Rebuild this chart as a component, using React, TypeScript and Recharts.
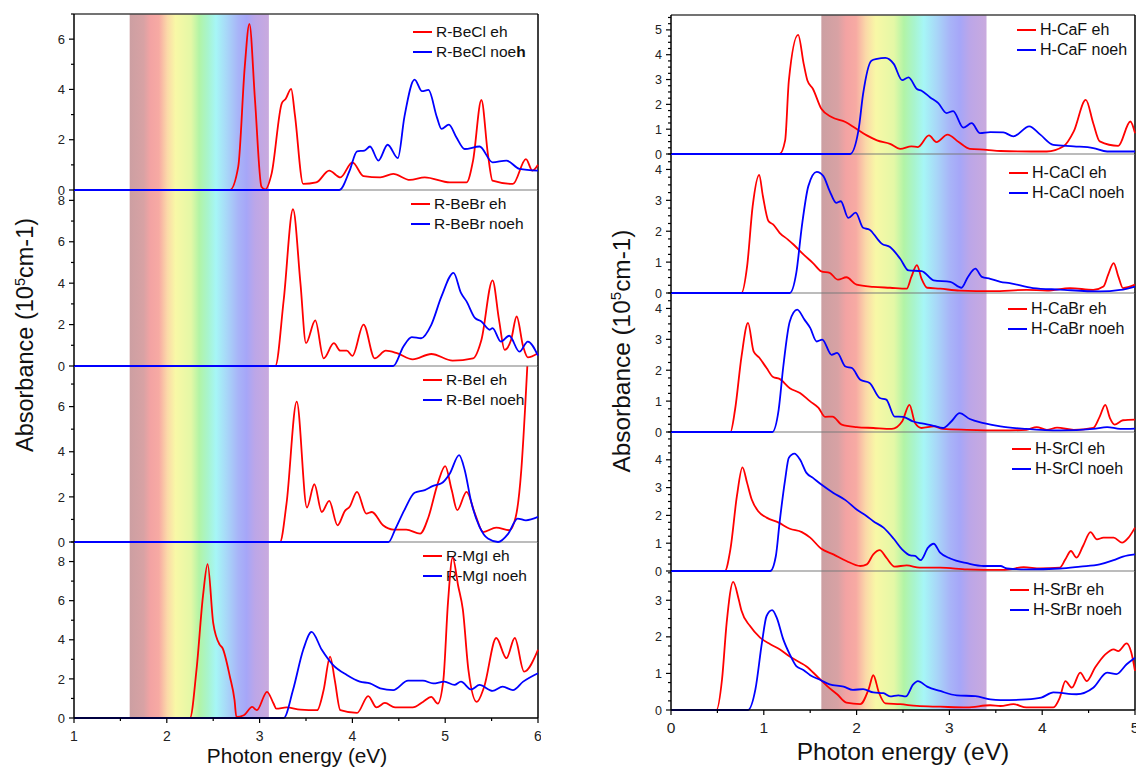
import React from "react";
import { LineChart, Line, XAxis, YAxis, ReferenceArea, ReferenceLine } from "recharts";

type Pt = [number, number];

// ---- left column: R- compounds, photon energy 1..6 eV
const beclEh: Pt[] = [[1,0],[2.68,0],[2.77,0.93],[2.84,4.9],[2.89,6.61],[2.95,3.6],[3.02,0.13],[3.06,0.02],[3.13,0.66],[3.24,3.46],[3.28,3.62],[3.34,4.02],[3.38,3.0],[3.47,0.24],[3.61,0.3],[3.75,0.77],[3.87,0.5],[4.0,1.1],[4.12,0.55],[4.3,0.5],[4.44,0.64],[4.62,0.4],[4.78,0.5],[5.05,0.3],[5.23,0.3],[5.3,1.17],[5.39,3.58],[5.46,1.43],[5.51,0.37],[5.73,0.24],[5.87,1.23],[5.94,0.77],[6.0,1.0]];
const beclNoeh: Pt[] = [[1,0],[3.86,0],[3.97,0.77],[4.05,1.54],[4.13,1.57],[4.19,1.73],[4.28,1.17],[4.38,1.8],[4.49,1.27],[4.56,2.9],[4.67,4.39],[4.75,3.93],[4.82,3.98],[4.91,2.9],[4.96,2.43],[5.04,2.6],[5.12,2.1],[5.21,1.63],[5.37,1.73],[5.51,1.1],[5.66,1.17],[5.8,0.84],[6.0,0.77]];
const bebrEh: Pt[] = [[1,0],[3.17,0],[3.26,3.2],[3.36,7.57],[3.44,4.0],[3.5,1.1],[3.6,2.2],[3.69,0.37],[3.8,1.1],[3.87,0.74],[3.94,0.74],[4.0,0.49],[4.12,2.0],[4.24,0.37],[4.36,0.74],[4.48,0.62],[4.65,0.32],[4.85,0.58],[5.08,0.26],[5.3,0.37],[5.39,1.26],[5.51,4.14],[5.58,2.23],[5.64,0.78],[5.71,1.26],[5.77,2.39],[5.84,0.94],[5.89,0.42],[6.0,0.62]];
const bebrNoeh: Pt[] = [[1,0],[4.44,0],[4.55,0.94],[4.64,1.39],[4.74,1.34],[4.85,1.99],[4.96,3.36],[5.09,4.5],[5.17,3.53],[5.23,3.12],[5.32,2.32],[5.39,2.15],[5.48,1.75],[5.51,1.83],[5.6,1.18],[5.69,1.46],[5.8,0.69],[5.89,1.18],[6.0,0.5]];
const beiEh: Pt[] = [[1,0],[3.22,0],[3.29,1.7],[3.4,6.22],[3.51,1.53],[3.59,2.56],[3.67,1.33],[3.75,1.82],[3.84,0.74],[3.92,1.38],[3.97,1.56],[4.05,2.22],[4.15,1.26],[4.21,1.33],[4.33,0.74],[4.44,0.55],[4.58,0.55],[4.73,0.37],[4.82,1.11],[4.92,2.6],[5.0,3.36],[5.07,2.3],[5.13,1.41],[5.23,2.22],[5.32,1.26],[5.41,0.44],[5.55,0.64],[5.69,0.52],[5.76,1.11],[5.82,3.19],[5.86,5.85],[5.885,7.8]];
const beiNoeh: Pt[] = [[1,0],[4.39,0],[4.46,0.55],[4.56,1.41],[4.67,2.18],[4.78,2.3],[4.87,2.49],[4.96,2.6],[5.05,3.04],[5.15,3.85],[5.21,3.19],[5.28,1.78],[5.37,0.67],[5.46,0.15],[5.57,0],[5.68,0.37],[5.78,1.04],[5.87,0.96],[6.0,1.11]];
const mgiEh: Pt[] = [[1,0],[2.25,0],[2.32,2.46],[2.39,6.24],[2.44,7.87],[2.5,4.87],[2.57,3.75],[2.6,3.58],[2.68,2.11],[2.73,0.91],[2.75,0.05],[2.83,0.14],[2.92,0.57],[2.97,0.4],[3.08,1.34],[3.15,0.74],[3.18,0.48],[3.29,0.54],[3.44,0.43],[3.62,0.4],[3.69,1.43],[3.76,3.14],[3.81,1.94],[3.87,0.4],[4.05,0.26],[4.17,1.12],[4.26,0.54],[4.35,0.77],[4.46,0.54],[4.65,0.54],[4.76,0.82],[4.85,1.08],[4.92,0.74],[4.98,1.94],[5.03,5.9],[5.08,8.2],[5.14,6.75],[5.19,5.55],[5.25,2.46],[5.34,0.82],[5.42,1.6],[5.55,4.09],[5.66,3.06],[5.75,4.09],[5.85,2.37],[6.0,3.49]];
const mgiNoeh: Pt[] = [[1,0],[3.26,0],[3.36,1.43],[3.47,3.49],[3.56,4.4],[3.67,3.49],[3.79,2.72],[3.94,2.2],[4.08,1.86],[4.19,1.77],[4.3,1.52],[4.44,1.43],[4.6,1.91],[4.76,1.91],[4.87,1.77],[4.99,1.86],[5.1,1.69],[5.17,1.86],[5.28,1.46],[5.37,1.69],[5.51,1.39],[5.62,1.6],[5.73,1.43],[5.84,1.86],[6.0,2.29]];

// ---- right column: H- compounds, photon energy 0..5 eV
const cafEh: Pt[] = [[0,0],[1.17,0],[1.23,0.55],[1.27,2.96],[1.37,4.8],[1.43,3.63],[1.47,2.96],[1.53,2.62],[1.62,1.82],[1.73,1.49],[1.88,1.29],[1.98,1.06],[2.11,0.75],[2.22,0.55],[2.36,0.41],[2.47,0.21],[2.59,0.31],[2.66,0.28],[2.78,0.75],[2.86,0.48],[2.98,0.78],[3.1,0.48],[3.22,0.21],[3.4,0.17],[3.55,0.12],[4.05,0.1],[4.23,0.31],[4.34,0.91],[4.47,2.18],[4.55,1.24],[4.62,0.51],[4.82,0.33],[4.95,1.31],[5.0,0.84]];
const cafNoeh: Pt[] = [[0,0],[1.93,0],[2.02,0.95],[2.07,2.42],[2.16,3.76],[2.22,3.83],[2.31,3.87],[2.4,3.63],[2.49,2.98],[2.56,3.09],[2.65,2.62],[2.7,2.55],[2.79,2.29],[2.88,2.05],[2.97,1.65],[3.04,1.73],[3.15,1.06],[3.24,1.24],[3.33,0.84],[3.44,0.88],[3.58,0.87],[3.69,0.71],[3.86,1.11],[3.98,0.78],[4.12,0.37],[4.34,0.31],[4.55,0.24],[4.7,0.1],[5.0,0.1]];
const caclEh: Pt[] = [[0,0],[0.76,0],[0.82,0.86],[0.88,2.81],[0.95,3.82],[0.99,3.14],[1.05,2.33],[1.1,2.22],[1.17,1.95],[1.26,1.73],[1.32,1.57],[1.43,1.24],[1.53,0.97],[1.62,0.7],[1.71,0.65],[1.8,0.43],[1.89,0.51],[2.0,0.27],[2.18,0.2],[2.36,0.17],[2.54,0.14],[2.59,0.52],[2.65,0.9],[2.7,0.46],[2.76,0.17],[2.9,0.14],[3.11,0.08],[3.47,0.06],[3.83,0.1],[4.05,0.08],[4.3,0.16],[4.55,0.1],[4.66,0.21],[4.71,0.59],[4.77,0.97],[4.82,0.54],[4.87,0.16],[5.0,0.27]];
const caclNoeh: Pt[] = [[0,0],[1.28,0],[1.35,0.65],[1.41,2.16],[1.48,3.46],[1.57,3.92],[1.64,3.79],[1.71,3.3],[1.78,2.92],[1.83,2.97],[1.91,2.43],[1.99,2.6],[2.07,2.11],[2.14,2.05],[2.23,1.73],[2.27,1.6],[2.36,1.49],[2.47,1.11],[2.56,0.73],[2.7,0.71],[2.83,0.41],[3.01,0.36],[3.13,0.17],[3.2,0.52],[3.28,0.79],[3.35,0.52],[3.44,0.46],[3.55,0.36],[3.65,0.32],[3.9,0.16],[4.19,0.11],[4.62,0.05],[4.84,0.1],[5.0,0.21]];
const cabrEh: Pt[] = [[0,0],[0.64,0],[0.69,0.72],[0.76,2.45],[0.83,3.53],[0.89,2.61],[0.95,2.41],[1.03,2.07],[1.1,1.78],[1.17,1.72],[1.28,1.42],[1.39,1.26],[1.5,0.99],[1.59,0.78],[1.66,0.49],[1.74,0.5],[1.84,0.24],[2.0,0.16],[2.18,0.13],[2.38,0.1],[2.49,0.34],[2.57,0.88],[2.63,0.29],[2.7,0.13],[2.83,0.18],[2.93,0.1],[3.19,0.07],[3.55,0.05],[3.83,0.07],[3.94,0.16],[4.05,0.07],[4.16,0.14],[4.34,0.07],[4.55,0.13],[4.62,0.5],[4.68,0.88],[4.73,0.45],[4.78,0.24],[4.87,0.38],[5.0,0.4]];
const cabrNoeh: Pt[] = [[0,0],[1.09,0],[1.16,0.72],[1.21,2.12],[1.28,3.58],[1.36,3.96],[1.44,3.63],[1.5,3.37],[1.57,2.93],[1.63,2.99],[1.73,2.5],[1.79,2.56],[1.88,2.12],[1.95,2.07],[2.04,1.69],[2.14,1.59],[2.25,1.1],[2.32,1.05],[2.41,0.5],[2.5,0.49],[2.61,0.34],[2.72,0.27],[2.83,0.2],[2.93,0.13],[3.02,0.34],[3.11,0.61],[3.22,0.42],[3.37,0.29],[3.55,0.18],[3.83,0.1],[4.19,0.05],[4.55,0.1],[4.7,0.16],[4.84,0.1],[5.0,0.11]];
const srclEh: Pt[] = [[0,0],[0.58,0],[0.64,0.78],[0.71,2.69],[0.77,3.73],[0.82,3.17],[0.87,2.57],[0.94,2.15],[1.03,1.92],[1.16,1.74],[1.28,1.52],[1.41,1.4],[1.5,1.2],[1.62,0.8],[1.75,0.6],[1.89,0.36],[2.04,0.18],[2.11,0.24],[2.18,0.6],[2.25,0.75],[2.32,0.48],[2.41,0.16],[2.54,0.2],[2.68,0.12],[2.9,0.12],[3.19,0.06],[3.55,0.04],[3.65,0.06],[3.8,0.14],[3.98,0.09],[4.19,0.12],[4.25,0.42],[4.31,0.72],[4.37,0.48],[4.44,0.9],[4.52,1.4],[4.59,1.14],[4.66,1.2],[4.77,1.2],[4.86,1.02],[4.93,1.2],[5.0,1.56]];
const srclNoeh: Pt[] = [[0,0],[1.07,0],[1.13,0.54],[1.17,1.74],[1.23,3.29],[1.27,4.07],[1.33,4.22],[1.39,4.01],[1.46,3.53],[1.53,3.35],[1.62,3.11],[1.75,2.81],[1.88,2.55],[2.0,2.21],[2.11,1.97],[2.18,1.79],[2.29,1.56],[2.4,1.16],[2.49,0.78],[2.58,0.56],[2.63,0.54],[2.69,0.39],[2.77,0.84],[2.83,0.98],[2.9,0.66],[3.01,0.45],[3.19,0.28],[3.37,0.18],[3.55,0.18],[3.62,0.09],[3.83,0.06],[4.19,0.09],[4.41,0.16],[4.62,0.24],[4.77,0.39],[4.87,0.52],[5.0,0.6]];
const srbrEh: Pt[] = [[0,0],[0.49,0],[0.55,0.84],[0.6,2.39],[0.67,3.5],[0.73,3.02],[0.76,2.71],[0.85,2.3],[0.96,1.98],[1.07,1.8],[1.17,1.66],[1.28,1.46],[1.39,1.3],[1.46,1.19],[1.57,0.93],[1.68,0.66],[1.79,0.43],[1.89,0.2],[2.04,0.16],[2.13,0.57],[2.18,0.95],[2.24,0.48],[2.31,0.18],[2.47,0.16],[2.65,0.11],[2.9,0.09],[3.19,0.07],[3.44,0.13],[3.55,0.11],[3.69,0.16],[3.83,0.07],[4.12,0.07],[4.19,0.34],[4.25,0.79],[4.32,0.61],[4.41,1.02],[4.48,0.79],[4.57,1.16],[4.68,1.52],[4.77,1.66],[4.82,1.61],[4.91,1.82],[4.96,1.57],[5.0,1.07]];
const srbrNoeh: Pt[] = [[0,0],[0.83,0],[0.91,0.57],[0.98,1.84],[1.03,2.57],[1.09,2.73],[1.14,2.52],[1.21,1.93],[1.28,1.52],[1.35,1.2],[1.43,1.09],[1.5,0.95],[1.61,0.82],[1.71,0.7],[1.86,0.64],[1.96,0.55],[2.07,0.57],[2.18,0.48],[2.29,0.46],[2.36,0.37],[2.45,0.4],[2.53,0.37],[2.61,0.7],[2.66,0.79],[2.76,0.64],[2.9,0.52],[3.08,0.4],[3.28,0.38],[3.44,0.29],[3.55,0.27],[3.83,0.29],[3.99,0.34],[4.12,0.48],[4.37,0.43],[4.55,0.61],[4.7,1.02],[4.8,0.98],[4.91,1.25],[5.0,1.43]];

// tick labels
const leftXTicks = [1, 2, 3, 4, 5, 6];
const rightXTicks = [0, 1, 2, 3, 4, 5];
const visibleBand: Record<string, [number, number]> = { left: [1.6, 3.1], right: [1.62, 3.4] };

const FONT = '"Liberation Sans", Arial, Helvetica, sans-serif';
const RED = "#ff0000";
const BLUE = "#0000ff";

const rainbowStops: [number, string][] = [
  [0, "#cc9fa2"], [0.1, "#d8a2a4"], [0.15, "#f3a3a3"], [0.21, "#f7aaa3"],
  [0.27, "#fbd9a8"], [0.33, "#f8f8a6"], [0.44, "#e4f8a6"], [0.5, "#b2f4a6"],
  [0.56, "#a8f4cc"], [0.62, "#a6f6f6"], [0.7, "#a8d6f8"], [0.78, "#a8b4f8"],
  [0.84, "#a6a6f8"], [0.9, "#bca6e8"], [1, "#c9aade"],
];

interface PanelDef {
  id: string;
  top: number;
  height: number;
  yMax: number;
  yMajor: number[];
  yMinor: number;
  eh: Pt[];
  noeh: Pt[];
  ehName: React.ReactNode;
  noehName: React.ReactNode;
  legendX: number;
  legendY: number;
}

interface ColumnDef {
  key: string;
  plotLeft: number;
  plotWidth: number;
  xDomain: [number, number];
  xMajor: number[];
  band: [number, number];
  yFont: number;
  xFont: number;
  legendFont: number;
  panels: PanelDef[];
}

const steps = (a: number, b: number, s: number) => {
  const out: number[] = [];
  for (let v = a; v <= b + 1e-9; v += s) out.push(Math.round(v * 1000) / 1000);
  return out;
};

const leftCol: ColumnDef = {
  key: "left",
  plotLeft: 74,
  plotWidth: 464,
  xDomain: [1, 6],
  xMajor: leftXTicks,
  band: visibleBand.left,
  yFont: 13,
  xFont: 14,
  legendFont: 15.5,
  panels: [
    { id: "becl", top: 14, height: 176, yMax: 7, yMajor: [0, 2, 4, 6], yMinor: 1, eh: beclEh, noeh: beclNoeh,
      ehName: "R-BeCl eh", noehName: <>R-BeCl noe<b>h</b></>, legendX: 413, legendY: 32 },
    { id: "bebr", top: 190, height: 176, yMax: 8.5, yMajor: [0, 2, 4, 6, 8], yMinor: 1, eh: bebrEh, noeh: bebrNoeh,
      ehName: "R-BeBr eh", noehName: "R-BeBr noeh", legendX: 411, legendY: 204 },
    { id: "bei", top: 366, height: 176, yMax: 7.8, yMajor: [0, 2, 4, 6], yMinor: 1, eh: beiEh, noeh: beiNoeh,
      ehName: "R-BeI eh", noehName: "R-BeI noeh", legendX: 423, legendY: 380 },
    { id: "mgi", top: 542, height: 176, yMax: 9, yMajor: [0, 2, 4, 6, 8], yMinor: 1, eh: mgiEh, noeh: mgiNoeh,
      ehName: "R-MgI eh", noehName: "R-MgI noeh", legendX: 423, legendY: 556 },
  ],
};

const rightCol: ColumnDef = {
  key: "right",
  plotLeft: 671,
  plotWidth: 464,
  xDomain: [0, 5],
  xMajor: rightXTicks,
  band: visibleBand.right,
  yFont: 12.5,
  xFont: 15.5,
  legendFont: 16,
  panels: [
    { id: "caf", top: 15, height: 139, yMax: 5.6, yMajor: [0, 1, 2, 3, 4, 5], yMinor: 0.25, eh: cafEh, noeh: cafNoeh,
      ehName: "H-CaF eh", noehName: "H-CaF noeh", legendX: 1017, legendY: 30 },
    { id: "cacl", top: 154, height: 139, yMax: 4.5, yMajor: [0, 1, 2, 3, 4], yMinor: 0.25, eh: caclEh, noeh: caclNoeh,
      ehName: "H-CaCl eh", noehName: "H-CaCl noeh", legendX: 1009, legendY: 173 },
    { id: "cabr", top: 293, height: 139, yMax: 4.5, yMajor: [0, 1, 2, 3, 4], yMinor: 0.25, eh: cabrEh, noeh: cabrNoeh,
      ehName: "H-CaBr eh", noehName: "H-CaBr noeh", legendX: 1008, legendY: 309 },
    { id: "srcl", top: 432, height: 139, yMax: 5, yMajor: [0, 1, 2, 3, 4], yMinor: 0.25, eh: srclEh, noeh: srclNoeh,
      ehName: "H-SrCl eh", noehName: "H-SrCl noeh", legendX: 1012, legendY: 449 },
    { id: "srbr", top: 571, height: 139, yMax: 3.8, yMajor: [0, 1, 2, 3], yMinor: 0.25, eh: srbrEh, noeh: srbrNoeh,
      ehName: "H-SrBr eh", noehName: "H-SrBr noeh", legendX: 1010, legendY: 590 },
  ],
};

const isIn = (arr: number[], v: number) => arr.some((m) => Math.abs(m - v) < 1e-6);

const AXW = 45; // y-axis width
const M = 3; // small margin so the frame is not cut
const MB = 9; // room under inner panels for the "0" label

function Panel({ col, p, first, last }: { col: ColumnDef; p: PanelDef; first: boolean; last: boolean }) {
  const gid = `rb-${p.id}`;
  const ehData = p.eh.map(([x, y]) => ({ x, y }));
  const noehData = p.noeh.map(([x, y]) => ({ x, y }));
  const yTicks = steps(0, p.yMax, p.yMinor);
  const xTicks = steps(col.xDomain[0], col.xDomain[1], 0.5);

  const yTick = (props: any) => {
    const { x, y, payload } = props;
    const major = isIn(p.yMajor, payload.value);
    return (
      <g>
        <line x1={x - (major ? 5 : 3)} x2={x} y1={y} y2={y} stroke="#000" strokeWidth={1.2} />
        {major && (
          <text x={x - 9} y={y} dy={col.yFont * 0.36} textAnchor="end" fontSize={col.yFont} fill="#222" fontFamily={FONT}>
            {payload.value}
          </text>
        )}
      </g>
    );
  };

  const xTick = (props: any) => {
    const { x, y, payload } = props;
    const major = isIn(col.xMajor, payload.value);
    return (
      <g>
        <line x1={x} x2={x} y1={y} y2={y + (major ? 5 : 3)} stroke="#000" strokeWidth={1.2} />
        {major && (
          <text x={x} y={y + 22.5} textAnchor="middle" fontSize={col.xFont} fill="#222" fontFamily={FONT}>
            {payload.value}
          </text>
        )}
      </g>
    );
  };

  const mb = last ? 0 : MB;

  return (
    <div style={{ position: "absolute", left: col.plotLeft - AXW, top: p.top - M }}>
      <LineChart
        width={AXW + col.plotWidth + M}
        height={p.height + M + mb + (last ? 30 : 0)}
        margin={{ top: M, right: M, bottom: mb, left: 0 }}
      >
        <defs>
          <linearGradient id={gid} x1="0" y1="0" x2="1" y2="0">
            {rainbowStops.map(([o, c]) => (
              <stop key={o} offset={o} stopColor={c} />
            ))}
          </linearGradient>
        </defs>
        <XAxis
          type="number"
          dataKey="x"
          domain={col.xDomain}
          ticks={last ? xTicks : []}
          interval={0}
          height={last ? 30 : 0}
          tick={last ? xTick : false}
          tickLine={false}
          tickSize={0}
          tickMargin={0}
          axisLine={last ? { stroke: "#000", strokeWidth: 1.5 } : false}
        />
        <YAxis
          type="number"
          domain={[0, p.yMax]}
          ticks={yTicks}
          interval={0}
          width={AXW}
          tick={yTick}
          tickLine={false}
          tickSize={0}
          tickMargin={0}
          axisLine={{ stroke: "#000", strokeWidth: 1.5 }}
        />
        <ReferenceArea x1={col.band[0]} x2={col.band[1]} fill={`url(#${gid})`} fillOpacity={1} stroke="none" />
        {!last && <ReferenceLine y={0} stroke="#7a7a7a" strokeWidth={1.2} />}
        {first && <ReferenceLine y={p.yMax} stroke="#444" strokeWidth={1.5} />}
        <ReferenceLine x={col.xDomain[1]} stroke="#000" strokeWidth={1.5} />
        <Line data={ehData} dataKey="y" type="monotone" stroke={RED} strokeWidth={1.8} dot={false} isAnimationActive={false} />
        <Line data={noehData} dataKey="y" type="monotone" stroke={BLUE} strokeWidth={1.8} dot={false} isAnimationActive={false} />
      </LineChart>
    </div>
  );
}

function PanelLegend({ col, p }: { col: ColumnDef; p: PanelDef }) {
  const rows = [
    { color: RED, label: p.ehName },
    { color: BLUE, label: p.noehName },
  ];
  return (
    <>
      {rows.map((r, i) => (
        <div
          key={i}
          style={{
            position: "absolute",
            left: p.legendX,
            top: p.legendY + i * 20 - 10,
            height: 20,
            display: "flex",
            alignItems: "center",
            fontFamily: FONT,
            fontSize: col.legendFont,
            color: "#111",
            whiteSpace: "nowrap",
          }}
        >
          <span style={{ display: "inline-block", width: 19, height: 2, background: r.color, marginRight: 4 }} />
          {r.label}
        </div>
      ))}
    </>
  );
}

function Column({ col }: { col: ColumnDef }) {
  const n = col.panels.length;
  // lower panels first, so each panel's zero line sits above the band of the panel below it
  const order = col.panels.map((p, i) => ({ p, i })).reverse();
  return (
    <>
      {col.panels.map((p) => (
        <PanelLegend key={`lg-${p.id}`} col={col} p={p} />
      ))}
      {order.map(({ p, i }) => (
        <Panel key={p.id} col={col} p={p} first={i === 0} last={i === n - 1} />
      ))}
    </>
  );
}

const yLabel = (
  <>
    Absorbance (10<sup style={{ fontSize: "0.62em", verticalAlign: "0.55em", lineHeight: 0 }}>5</sup>cm-1)
  </>
);

export default function App() {
  return (
    <div
      style={{
        position: "absolute",
        left: 0,
        top: 0,
        width: 1136,
        height: 767,
        overflow: "hidden",
        background: "#fff",
        fontFamily: FONT,
      }}
    >
      <Column col={leftCol} />
      <Column col={rightCol} />

      <div
        style={{
          position: "absolute",
          left: 26,
          top: 335,
          transform: "translate(-50%, -50%) rotate(-90deg)",
          whiteSpace: "nowrap",
          fontSize: 23.5,
          color: "#111",
          lineHeight: 1,
        }}
      >
        {yLabel}
      </div>
      <div
        style={{
          position: "absolute",
          left: 622,
          top: 351,
          transform: "translate(-50%, -50%) rotate(-90deg)",
          whiteSpace: "nowrap",
          fontSize: 24.4,
          color: "#111",
          lineHeight: 1,
        }}
      >
        {yLabel}
      </div>
      <div
        style={{
          position: "absolute",
          left: 297,
          top: 746,
          transform: "translateX(-50%)",
          whiteSpace: "nowrap",
          fontSize: 20.8,
          color: "#111",
          lineHeight: 1,
        }}
      >
        Photon energy (eV)
      </div>
      <div
        style={{
          position: "absolute",
          left: 903,
          top: 740,
          transform: "translateX(-50%)",
          whiteSpace: "nowrap",
          fontSize: 24.5,
          color: "#111",
          lineHeight: 1,
        }}
      >
        Photon energy (eV)
      </div>
    </div>
  );
}
